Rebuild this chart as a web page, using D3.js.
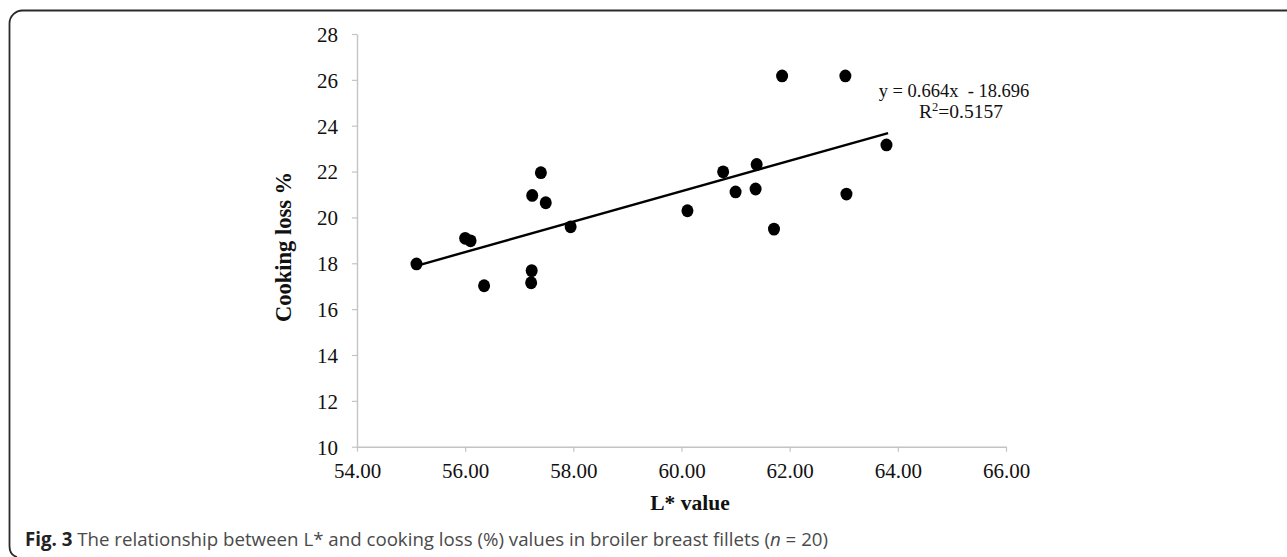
<!DOCTYPE html>
<html>
<head>
<meta charset="utf-8">
<script src="https://cdn.jsdelivr.net/npm/d3@7"></script>
<style>
  html, body { margin: 0; padding: 0; background: #fff; }
  svg { display: block; }
</style>
</head>
<body>
<svg id="chart" width="1287" height="557"></svg>
<script>
// ---- data ----
const lValues = [55.10, 56.00, 56.10, 56.35, 57.24, 57.40, 57.49, 57.23, 57.22, 57.95,
                 60.11, 60.77, 61.00, 61.39, 61.37, 61.71, 61.86, 63.03, 63.05, 63.79];
const cookingLoss = [17.97, 19.09, 18.98, 17.02, 20.96, 21.95, 20.64, 17.68, 17.15, 19.59,
                     20.29, 21.99, 21.11, 22.31, 21.24, 19.49, 26.17, 26.17, 21.02, 23.16];
const xTicks = [54, 56, 58, 60, 62, 64, 66];
const yTicks = [10, 12, 14, 16, 18, 20, 22, 24, 26, 28];
const trendSlope = 0.664;
const trendIntercept = -18.696;
const equationLines = ["y = 0.664x  - 18.696", "R2=0.5157"];
const xTitle = "L* value";
const yTitle = "Cooking loss %";

const svg = d3.select("#chart");

// frame
svg.append("path")
  .attr("d", "M1290,10.5 H23 A13,13 0 0 0 9.5,23.5 V546 Q9.5,555 17,557")
  .attr("fill", "none").attr("stroke", "#2a2a2a").attr("stroke-width", 1.8);

const x = d3.scaleLinear().domain([54, 66]).range([357, 1006]);
const y = d3.scaleLinear().domain([10, 28]).range([446.7, 34]);

const serif = "'Liberation Serif', 'Times New Roman', serif";

// axes
const xAxis = svg.append("g").attr("transform", "translate(0,446.7)")
  .call(d3.axisBottom(x).tickValues(xTicks).tickFormat(d3.format(".2f")).tickSize(5).tickSizeOuter(0));
const yAxis = svg.append("g").attr("transform", "translate(357,0)")
  .call(d3.axisLeft(y).tickValues(yTicks).tickFormat(d3.format("d")).tickSize(5).tickSizeOuter(0));

[xAxis, yAxis].forEach(g => {
  g.select(".domain").attr("stroke", "#c4c4c4").attr("stroke-width", 1.4);
  g.selectAll(".tick line").attr("stroke", "#c4c4c4").attr("stroke-width", 1.2);
  g.selectAll(".tick text").attr("fill", "#111").style("font-family", serif).style("font-size", "21px");
});
xAxis.selectAll(".tick text").attr("dy", null).attr("y", 31.5);
yAxis.selectAll(".tick text").attr("x", -19).attr("dy", "0.35em");

// axis titles
svg.append("text").attr("x", 690).attr("y", 510).attr("text-anchor", "middle")
  .style("font-family", serif).style("font-weight", "bold").style("font-size", "21.5px")
  .attr("fill", "#111").text(xTitle);
svg.append("text").attr("transform", "translate(291,247) rotate(-90)").attr("text-anchor", "middle")
  .style("font-family", serif).style("font-weight", "bold").style("font-size", "22.5px")
  .attr("fill", "#111").text(yTitle);

// trend line
const xExt = d3.extent(lValues);
xExt[1] = 63.82;
svg.append("line")
  .attr("x1", x(xExt[0])).attr("y1", y(trendSlope * xExt[0] + trendIntercept))
  .attr("x2", x(xExt[1])).attr("y2", y(trendSlope * xExt[1] + trendIntercept))
  .attr("stroke", "#000").attr("stroke-width", 2.4);

// points
svg.append("g").selectAll("ellipse").data(lValues).join("ellipse")
  .attr("cx", (d) => x(d)).attr("cy", (d, i) => y(cookingLoss[i]))
  .attr("rx", 6).attr("ry", 6.4).attr("fill", "#000");

// equation
const eq = svg.append("g").style("font-family", serif).style("font-size", "18.5px").attr("fill", "#111");
eq.append("text").attr("x", 954).attr("y", 97).attr("text-anchor", "middle")
  .style("white-space", "pre").text(equationLines[0]);
const r2 = eq.append("text").attr("x", 961).attr("y", 118).attr("text-anchor", "middle")
  .style("font-size", "19.5px");
r2.append("tspan").text("R");
r2.append("tspan").attr("dy", -7).style("font-size", "12.5px").text("2");
r2.append("tspan").attr("dy", 7).text("=0.5157");

// caption
const cap = svg.append("text").attr("x", 25).attr("y", 546)
  .style("font-family", "'Open Sans', 'Noto Sans', sans-serif").style("font-size", "17px").attr("fill", "#4a4a4a");
cap.append("tspan").style("font-weight", "bold").attr("fill", "#222").text("Fig. 3");
cap.append("tspan").text(" The relationship between L* and cooking loss (%) values in broiler breast fillets (");
cap.append("tspan").style("font-style", "italic").text("n");
cap.append("tspan").text(" = 20)");
const w = cap.node().getComputedTextLength();
cap.style("font-size", (17 * 804 / w).toFixed(2) + "px");
</script>
</body>
</html>
